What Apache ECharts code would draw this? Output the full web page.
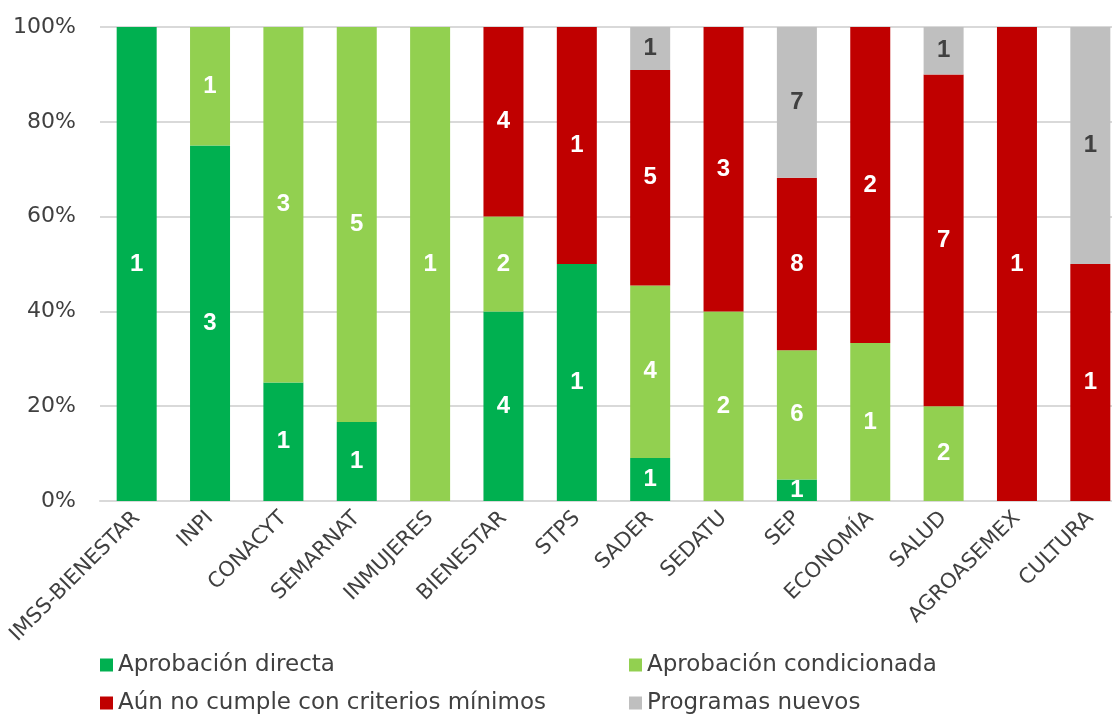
<!DOCTYPE html>
<html>
<head>
<meta charset="utf-8">
<script src="https://cdn.jsdelivr.net/npm/echarts@6/dist/echarts.min.js"></script>
<style>
  html, body { margin: 0; padding: 0; background: #fff; }
  #chart { width: 1112px; height: 717px; }
</style>
</head>
<body>
<div id="chart"></div>
<script>
// categories (dependencias)
var categories = ['IMSS-BIENESTAR', 'INPI', 'CONACYT', 'SEMARNAT', 'INMUJERES', 'BIENESTAR',
    'STPS', 'SADER', 'SEDATU', 'SEP', 'ECONOMÍA', 'SALUD', 'AGROASEMEX', 'CULTURA'];

// number of programs per result
var directa      = [1, 3, 1, 1, 0, 4, 1, 1, 0, 1, 0, 0, 0, 0];
var condicionada = [0, 1, 3, 5, 1, 2, 0, 4, 2, 6, 1, 2, 0, 0];
var noCumple     = [0, 0, 0, 0, 0, 4, 1, 5, 3, 8, 2, 7, 1, 1];
var nuevos       = [0, 0, 0, 0, 0, 0, 0, 1, 0, 7, 0, 1, 0, 1];

var yTicks = [0, 20, 40, 60, 80, 100];

var totals = categories.map(function (c, i) {
    return directa[i] + condicionada[i] + noCumple[i] + nuevos[i];
});

function toPct(arr) {
    return arr.map(function (v, i) {
        return { value: v / totals[i] * 100, count: v };
    });
}

var textFont = 'DejaVu Sans';
var grey = '#404040';

function makeSeries(name, arr, color, labelColor) {
    return {
        name: name,
        type: 'bar',
        stack: 'total',
        barWidth: 40,
        itemStyle: { color: color },
        label: {
            show: true,
            position: 'inside',
            color: labelColor,
            fontFamily: 'Liberation Sans',
            fontWeight: 'bold',
            fontSize: 24,
            formatter: function (p) {
                return p.data.count > 0 ? p.data.count : '';
            }
        },
        data: toPct(arr)
    };
}

// one legend per entry so the 2x2 layout sits where the original has it
function makeLegend(name, left, top) {
    return {
        left: left,
        top: top,
        padding: 0,
        itemWidth: 13,
        itemHeight: 13,
        icon: 'rect',
        textStyle: { color: grey, fontFamily: textFont, fontSize: 23, lineHeight: 26 },
        data: [name]
    };
}

var chart = echarts.init(document.getElementById('chart'));
var option = {
    animation: false,
    grid: { left: 100, top: 27, width: 1027, height: 474, containLabel: false, outerBoundsMode: 'none' },
    xAxis: {
        type: 'category',
        data: categories,
        axisLine: { lineStyle: { color: '#D9D9D9', width: 2 } },
        axisTick: { show: false },
        axisLabel: {
            rotate: 45,
            interval: 0,
            margin: 14,
            color: grey,
            fontFamily: textFont,
            fontSize: 21
        }
    },
    yAxis: {
        type: 'value',
        min: yTicks[0],
        max: yTicks[yTicks.length - 1],
        interval: 20,
        axisLine: { show: false },
        axisTick: { show: false },
        splitLine: { lineStyle: { color: '#D9D9D9', width: 2 } },
        axisLabel: {
            formatter: '{value}%',
            margin: 24,
            color: grey,
            fontFamily: textFont,
            fontSize: 22
        }
    },
    legend: [
        makeLegend('Aprobación directa', 100, 652),
        makeLegend('Aprobación condicionada', 629, 652),
        makeLegend('Aún no cumple con criterios mínimos', 100, 690),
        makeLegend('Programas nuevos', 629, 690)
    ],
    series: [
        makeSeries('Aprobación directa', directa, '#00B050', '#ffffff'),
        makeSeries('Aprobación condicionada', condicionada, '#92D050', '#ffffff'),
        makeSeries('Aún no cumple con criterios mínimos', noCumple, '#C00000', '#ffffff'),
        makeSeries('Programas nuevos', nuevos, '#BFBFBF', grey)
    ]
};
chart.setOption(option);
</script>
</body>
</html>
